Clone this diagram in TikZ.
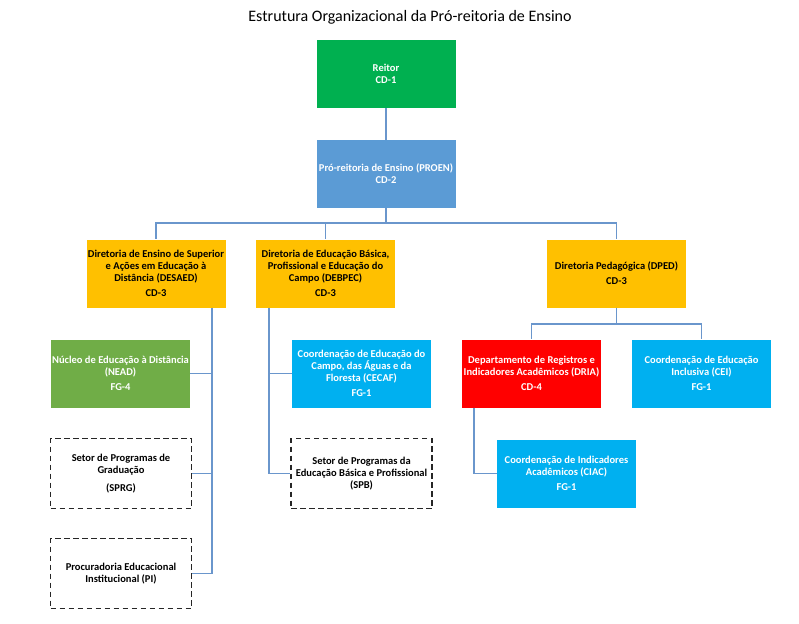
\documentclass[tikz,border=0pt]{standalone}
\usepackage{fontspec}
\setmainfont{Carlito}
\begin{document}
\begin{tikzpicture}[x=1pt,y=-1pt,
  box/.style={minimum width=139pt,minimum height=68pt,inner sep=1pt,align=center,
    font=\bfseries\fontsize{10.5}{12}\selectfont,text=white},
  yel/.style={box,fill=dpyellow,text=black},
  dbox/.style={box,draw=black!85,line width=1.5pt,dash pattern=on 5.5pt off 3.5pt,text=black,minimum width=141pt,minimum height=70pt},
  conn/.style={draw=lineblue,line width=1.5pt}]
\definecolor{dpyellow}{HTML}{FFC000}
\definecolor{dpgreen}{HTML}{00B050}
\definecolor{dpblue}{HTML}{5B9BD5}
\definecolor{dpolive}{HTML}{70AD47}
\definecolor{dpcyan}{HTML}{00B0F0}
\definecolor{dpred}{HTML}{FF0000}
\definecolor{lineblue}{HTML}{6A96CC}
\useasboundingbox (0,0) rectangle (799,623);
\node (title) at (410,17) {\fontsize{16}{18}\selectfont Estrutura Organizacional da Pró-reitoria de Ensino};
\node[box,fill=dpgreen] (reitor) at (386,74) {Reitor\\CD-1};
\node[box,fill=dpblue] (proen) at (386,174) {Pró-reitoria de Ensino (PROEN)\\CD-2};
\node[yel] (desaed) at (156,273.5) {Diretoria de Ensino de Superior\\e Ações em Educação à\\Distância (DESAED)\\[3pt]CD-3};
\node[yel] (debpec) at (325.5,273.5) {Diretoria de Educação Básica,\\Profissional e Educação do\\Campo (DEBPEC)\\[3pt]CD-3};
\node[yel] (dped) at (616.5,273.5) {Diretoria Pedagógica (DPED)\\[3pt]CD-3};
\node[box,fill=dpolive] (nead) at (120.5,373.5) {Núcleo de Educação à Distância\\(NEAD)\\[3pt]FG-4};
\node[box,fill=dpcyan] (cecaf) at (361.5,373.5) {Coordenação de Educação do\\Campo, das Águas e da\\Floresta (CECAF)\\[3pt]FG-1};
\node[box,fill=dpred] (dria) at (531.5,373.5) {Departamento de Registros e\\Indicadores Acadêmicos (DRIA)\\[3pt]CD-4};
\node[box,fill=dpcyan] (cei) at (701.5,373.5) {Coordenação de Educação\\Inclusiva (CEI)\\[3pt]FG-1};
\node[box,fill=dpcyan] (ciac) at (566.5,473.5) {Coordenação de Indicadores\\Acadêmicos (CIAC)\\[3pt]FG-1};
\node[dbox] (sprg) at (121,473.5) {Setor de Programas de\\Graduação\\[6pt](SPRG)};
\node[dbox] (pi) at (121,573.5) {Procuradoria Educacional\\Institucional (PI)};
\node[dbox] (spb) at (361.5,473.5) {Setor de Programas da\\Educação Básica e Profissional\\(SPB)};
% connectors
\draw[conn] (reitor.south) -- (proen.north);
\coordinate (bus) at (386,223);
\draw[conn] (proen.south) -- (bus) -| (desaed.north);
\draw[conn] (bus) -| (debpec.north);
\draw[conn] (bus) -| (dped.north);
\coordinate (ta) at (212,0);
\draw[conn] (desaed.south -| ta) -- (ta |- pi.east) -- (pi.east);
\draw[conn] (ta |- nead.east) -- (nead.east);
\draw[conn] (ta |- sprg.east) -- (sprg.east);
\coordinate (tb) at (269,0);
\draw[conn] (debpec.south -| tb) -- (tb |- spb.west) -- (spb.west);
\draw[conn] (tb |- cecaf.west) -- (cecaf.west);
\coordinate (busd) at (616.5,324);
\draw[conn] (dped.south) -- (busd) -| (dria.north);
\draw[conn] (busd) -| (cei.north);
\coordinate (tc) at (474,0);
\draw[conn] (dria.south -| tc) |- (ciac.west);
\end{tikzpicture}
\end{document}
